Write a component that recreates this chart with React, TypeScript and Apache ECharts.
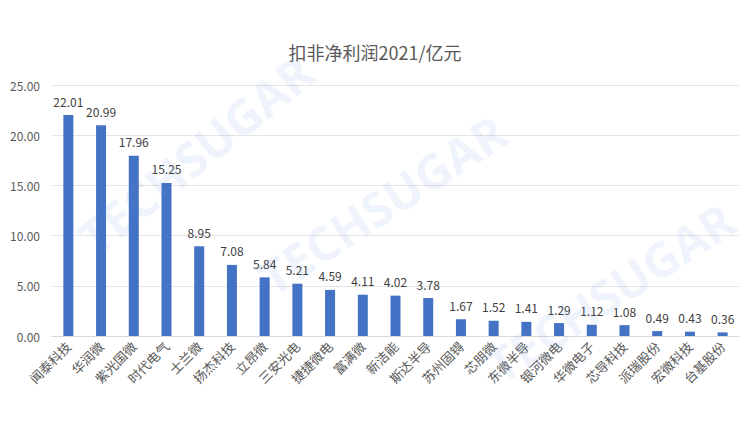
import React, { useEffect, useRef } from "react";
import * as echarts from "echarts";

const categories = [
  "闻泰科技", "华润微", "紫光国微", "时代电气", "士兰微", "扬杰科技", "立昂微",
  "三安光电", "捷捷微电", "富满微", "新洁能", "斯达半导", "苏州固锝", "芯朋微",
  "东微半导", "银河微电", "华微电子", "芯导科技", "派瑞股份", "宏微科技", "台基股份",
];
const values = [
  22.01, 20.99, 17.96, 15.25, 8.95, 7.08, 5.84, 5.21, 4.59, 4.11, 4.02, 3.78,
  1.67, 1.52, 1.41, 1.29, 1.12, 1.08, 0.49, 0.43, 0.36,
];
const titleText = "扣非净利润2021/亿元";
const watermark = "TECHSUGAR";

export default function App() {
  const ref = useRef<HTMLDivElement>(null);
  useEffect(() => {
    document.body.style.margin = "0";
    const chart = echarts.init(ref.current!, null, { renderer: "svg" });
    const font = "'Noto Sans CJK SC', 'Noto Sans', sans-serif";
    const wm = (x: number, y: number, r: number, size: number) => ({
      type: "text",
      x,
      y,
      rotation: r,
      silent: true,
      z: 100,
      style: {
        text: watermark,
        fontSize: size,
        fontWeight: "bold",
        fontFamily: "'Open Sans', sans-serif",
        fill: "rgba(90,140,230,0.10)",
      },
    });
    chart.setOption({
      animation: false,
      backgroundColor: "#ffffff",
      title: {
        text: titleText,
        left: "center",
        top: 38,
        textStyle: { fontSize: 18, fontWeight: "normal", color: "#595959", fontFamily: font },
      },
      grid: { left: 52, right: 11, top: 85, bottom: 108, containLabel: false },
      xAxis: {
        type: "category",
        data: categories,
        axisLine: { lineStyle: { color: "#d9d9d9", width: 1 } },
        axisTick: { show: false },
        axisLabel: {
          rotate: 45,
          interval: 0,
          color: "#595959",
          fontSize: 13,
          fontFamily: font,
          margin: 8,
        },
      },
      yAxis: {
        type: "value",
        min: 0,
        max: 25,
        interval: 5,
        axisLine: { show: false },
        axisTick: { show: false },
        splitLine: { lineStyle: { color: "#e4e4e4", width: 1 } },
        axisLabel: {
          formatter: (v: number) => v.toFixed(2),
          color: "#595959",
          fontSize: 12,
          fontFamily: font,
          margin: 12,
        },
      },
      graphic: [
        wm(70, 225, 0.68, 48),
        wm(250, 262, 0.58, 48),
        wm(478, 350, 0.58, 48),
      ],
      series: [
        {
          type: "bar",
          data: values,
          barWidth: 10,
          itemStyle: { color: "#4472C4" },
          label: {
            show: true,
            position: "top",
            distance: 8,
            color: "#404040",
            fontSize: 12,
            fontFamily: font,
            formatter: (p: any) => p.value.toFixed(2),
          },
        },
      ],
    });
    return () => chart.dispose();
  }, []);
  return <div ref={ref} style={{ width: 750, height: 444 }} />;
}
